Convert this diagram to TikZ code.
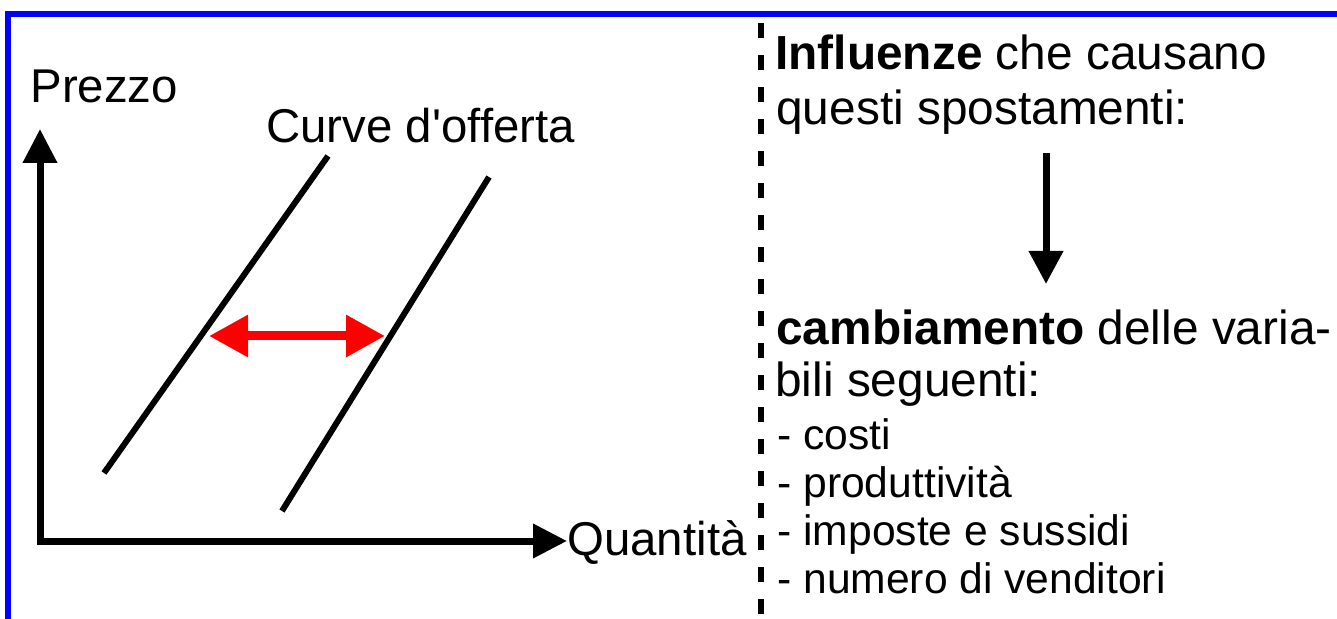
\documentclass[tikz,border=0pt]{standalone}
\usepackage{fontspec}
\setmainfont{Liberation Sans}[Ligatures=TeXOff]
\usetikzlibrary{arrows.meta}
\begin{document}
\begin{tikzpicture}[x=0.5pt,y=-0.5pt,
  lbl/.style={anchor=base west,inner sep=0pt,font=\fontsize{23.7pt}{27pt}\selectfont},
  hdr/.style={anchor=base west,inner sep=0pt,font=\fontsize{23.9pt}{27.5pt}\selectfont},
  itm/.style={anchor=base west,inner sep=0pt,font=\fontsize{21.3pt}{24pt}\selectfont},
  axisline/.style={line width=3.5pt,{Triangle[length=17pt,width=16.5pt]}-{Triangle[length=17pt,width=16.5pt]}},
  supplyline/.style={line width=3pt},
  shiftarrow/.style={red,line width=4.5pt,{Triangle[length=19.5pt,width=20pt]}-{Triangle[length=19.5pt,width=20pt]}},
  flowarrow/.style={line width=3.5pt,-{Triangle[length=16.5pt,width=16.5pt]}},
  divider/.style={line width=3pt,dash pattern=on 7.5pt off 8.5pt},
  blueframe/.style={blue,line width=3pt}]
\useasboundingbox (0,0) rectangle (1337,619);
\clip (0,0) rectangle (1337,619);
\fill[white] (0,0) rectangle (1337,619);
% frame
\draw[blueframe] (8,14.5) rectangle (1360,650);
% axes
\coordinate (ytip) at (40,129);
\coordinate (origin) at (40,541);
\coordinate (xtip) at (567,541);
\draw[axisline] (ytip) -- (origin) -- (xtip);
% supply curves
\coordinate (s1a) at (104,473);
\coordinate (s1b) at (328,156);
\coordinate (s2a) at (282,511);
\coordinate (s2b) at (489,177);
\draw[supplyline] (s1a) -- (s1b);
\draw[supplyline] (s2a) -- (s2b);
% shift arrow
\coordinate (shl) at (209,336);
\coordinate (shr) at (385,336);
\draw[shiftarrow] (shl) -- (shr);
% labels
\node[lbl] (prezzo) at (30,103) {Prezzo};
\node[lbl] (curve) at (266,143) {Curve d'offerta};
\node[lbl] (quant) at (567,555) {Quantità};
% divider
\coordinate (dtop) at (761,23);
\coordinate (dbot) at (761,640);
\draw[divider] (dtop) -- (dbot);
% right text
\node[hdr] (h1) at (775,70) {\bfseries Influenze\mdseries{} che causano};
\node[hdr] (h2) at (776,125) {questi spostamenti:};
\coordinate (fa) at (1046,153);
\coordinate (fb) at (1046,284);
\draw[flowarrow] (fa) -- (fb);
\node[hdr] (c1) at (776,345) {\bfseries cambiamento\mdseries{} delle varia-};
\node[hdr] (c2) at (775,397) {bili seguenti:};
\node[itm] (i1) at (777,450) {- costi};
\node[itm] (i2) at (777,497) {- produttività};
\node[itm] (i3) at (777,545) {- imposte e sussidi};
\node[itm] (i4) at (777,593) {- numero di venditori};
\end{tikzpicture}
\end{document}
